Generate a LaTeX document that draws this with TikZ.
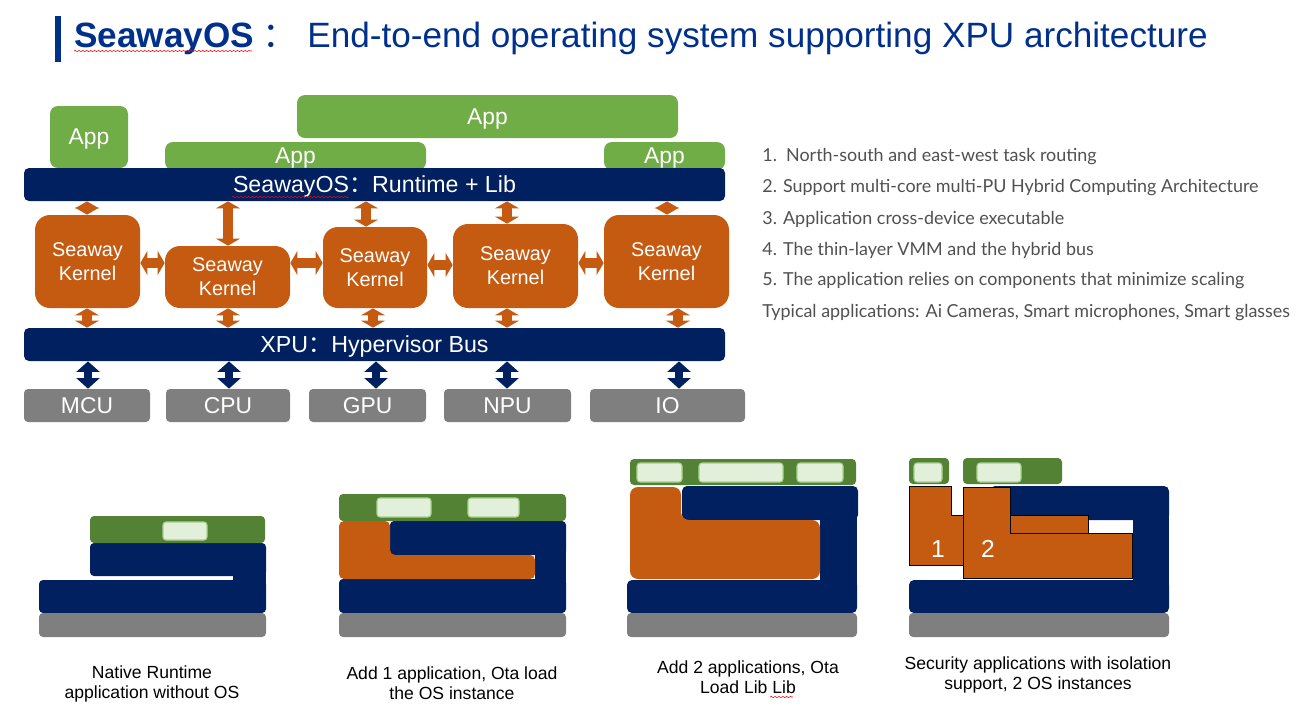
\documentclass[tikz,border=0pt]{standalone}
\usepackage{fontspec}
\setmainfont{Liberation Sans}
\newfontfamily\cjk{Noto Sans CJK SC}
\newfontfamily\listfont{Lato}
\usetikzlibrary{arrows.meta,decorations.pathmorphing}
\definecolor{navy}{RGB}{0,32,96}
\definecolor{titleblue}{RGB}{0,48,140}
\definecolor{appgreen}{RGB}{112,173,71}
\definecolor{darkgreen}{RGB}{84,130,53}
\definecolor{palegreen}{RGB}{226,239,218}
\definecolor{paleedge}{RGB}{169,209,142}
\definecolor{kernelorange}{RGB}{197,90,17}
\definecolor{hwgray}{RGB}{127,127,127}
\definecolor{listgray}{RGB}{80,80,80}

\begin{document}
\begin{tikzpicture}[x=0.02cm,y=-0.02cm,
  box/.style 2 args={minimum width={(#1)*0.02cm},minimum height={(#2)*0.02cm}},
  appbox/.style={fill=appgreen,rounded corners=0.16cm,inner sep=0pt,text depth=0pt,text=white,font=\fontsize{13}{15}\selectfont},
  busbar/.style={fill=navy,rounded corners=0.1cm,inner sep=0pt,text depth=0pt,text=white,font=\fontsize{13.2}{15}\selectfont},
  kernel/.style={fill=kernelorange,rounded corners=0.3cm,inner sep=0pt,text=white,align=center,font=\fontsize{11.3}{13.6}\selectfont},
  hwbox/.style={fill=hwgray,rounded corners=0.08cm,inner sep=0pt,text=white,font=\fontsize{13}{15}\selectfont},
  oarrow/.style={draw=kernelorange,line width=5.7pt,{Triangle[width=13.6pt,length=4pt]}-{Triangle[width=13.6pt,length=4pt]}},
  barrow/.style={draw=navy,line width=4.5pt,{Triangle[width=13pt,length=6pt]}-{Triangle[width=13pt,length=6pt]}},
  slot/.style={fill=palegreen,draw=paleedge,line width=0.6pt,rounded corners=0.06cm},
  iso/.style={fill=kernelorange,draw=black,line width=0.5pt},
  note/.style={align=center,font=\fontsize{10}{11.4}\selectfont},
  listtext/.style={anchor=west,inner sep=0pt,text=listgray,font=\listfont\fontsize{10.2}{12}\selectfont},
  squiggle/.style={red,line width=0.3pt,decorate,decoration={snake,amplitude=0.35pt,segment length=2.2pt}}]
  \useasboundingbox (0,0) rectangle (1309,707);

  % title
  \fill[titleblue] (55,16) rectangle (61,62);
  \node[anchor=base west,inner sep=0pt,text=titleblue,font=\bfseries\fontsize{20}{24}\selectfont] (ttl) at (74,47) {SeawayOS};
  \node[anchor=base west,inner sep=0pt,text=titleblue,font=\cjk\fontsize{20}{24}\selectfont] (ttlc) at (262,47) {：};
  \node[anchor=base west,inner sep=0pt,text=titleblue,font=\fontsize{20}{24}\selectfont] (ttl2) at (307,47) {End-to-end operating system supporting XPU architecture};
  \draw[squiggle] (74,51) -- (252,51);

  % architecture
  \node[appbox,box={78}{62}] (app1) at (89,137) {App};
  \node[appbox,box={381}{43}] (app2) at (487.5,116.5) {App};
  \node[appbox,box={261}{28}] (app3) at (295.5,156) {App};
  \node[appbox,box={121}{28}] (app4) at (664.5,156) {App};
  \node[busbar,box={701}{33}] (rt) at (374.5,184.5) {SeawayOS{\cjk ：}Runtime + Lib};
  \draw[squiggle] (232,197) -- (349,197);
  \node[busbar,box={701}{33}] (xpu) at (374.5,344.5) {XPU{\cjk ：}Hypervisor Bus};
  \foreach \n/\l/\t/\r in {k1/35/215/140, k2/165/246/290, k3/323/227/427, k4/453/224/578, k5/604/215/729}
    \node[kernel,box={\r-\l}{308-\t}] (\n) at ({(\l+\r)/2},{(\t+308)/2}) {Seaway\\Kernel};
  \foreach \n/\l/\r/\lab in {mcu/24/150/MCU, cpu/166/290/CPU, gpu/309/426/GPU, npu/444/571/NPU, io/590/745/IO}
    \node[hwbox,box={\r-\l}{33}] (\n) at ({(\l+\r)/2},405.5) {\lab};
  \foreach \n/\a/\b in {k1/87/87, k2/228/228, k3/366/373, k4/507/507, k5/667/678} {
    \draw[oarrow] (\a,0 |- rt.south) -- (\a,0 |- \n.north);
    \draw[oarrow] (\b,0 |- \n.south) -- (\b,0 |- xpu.north);
  }
  \foreach \a/\b/\y in {k1/k2/263, k2/k3/263, k3/k4/265, k4/k5/263}
    \draw[oarrow] (\a.east |- 0,\y) -- (\b.west |- 0,\y);
  \foreach \n/\x in {mcu/88, cpu/229, gpu/376, npu/507, io/679}
    \draw[barrow] (\x,0 |- xpu.south) -- (\x,0 |- \n.north);

  % feature list
  \foreach \y/\txt in {157/{1.\ \ North-south and east-west task routing},
      188/{2. Support multi-core multi-PU Hybrid Computing Architecture},
      219/{3. Application cross-device executable},
      250/{4. The thin-layer VMM and the hybrid bus},
      281/{5. The application relies on components that minimize scaling},
      313/{Typical applications: Ai Cameras, Smart microphones, Smart glasses}}
    \node[listtext] (l\y) at (762,\y) {\txt};

  % stack 1
  \fill[navy,rounded corners=0.08cm] (90,543) rectangle (266,576);
  \fill[navy,rounded corners=0.08cm] (39,580) rectangle (266,613);
  \fill[navy] (233,560) rectangle (266,600);
  \fill[darkgreen,rounded corners=0.08cm] (90,516) rectangle (265,543);
  \path[slot] (163,522) rectangle (207,540);
  \fill[hwgray,rounded corners=0.08cm] (39,613) rectangle (266,637);
  \node[note] (cap1) at (152,684) {Native Runtime\\application without OS};

  % stack 2
  \fill[navy,rounded corners=0.08cm] (390,521) rectangle (566,555);
  \fill[navy,rounded corners=0.08cm] (339,579) rectangle (566,613);
  \fill[navy] (535,540) rectangle (566,600);
  \fill[kernelorange,rounded corners=0.1cm] (339,521) -- (390,521) -- (390,555) -- (535,555) -- (535,579) -- (339,579) -- cycle;
  \fill[darkgreen,rounded corners=0.08cm] (339,494) rectangle (566,521);
  \path[slot] (377,498) rectangle (431,517);
  \path[slot] (468,498) rectangle (519,517);
  \fill[hwgray,rounded corners=0.08cm] (339,613) rectangle (566,637);
  \node[note] (cap2) at (452,683) {Add 1 application, Ota load\\the OS instance};

  % stack 3
  \fill[navy,rounded corners=0.1cm] (682,486) rectangle (858,520);
  \fill[navy,rounded corners=0.1cm] (627,580) rectangle (857,613);
  \fill[navy] (820,500) rectangle (857,600);
  \fill[kernelorange,rounded corners=0.16cm] (630,487) -- (681,487) -- (681,520) -- (820,520) -- (820,579) -- (630,579) -- cycle;
  \fill[darkgreen,rounded corners=0.08cm] (630,459) rectangle (856,485);
  \path[slot] (637,463) rectangle (682,482);
  \path[slot] (699,463) rectangle (783,482);
  \path[slot] (797,463) rectangle (843,482);
  \fill[hwgray,rounded corners=0.08cm] (627,613) rectangle (857,637);
  \node[note] (cap3) at (748,677) {Add 2 applications, Ota\\Load Lib Lib};
  \draw[squiggle] (770,697) -- (793,697);

  % stack 4
  \fill[navy,rounded corners=0.1cm] (990,486) rectangle (1169,520);
  \fill[navy,rounded corners=0.1cm] (909,580) rectangle (1169,613);
  \fill[navy] (1133,500) rectangle (1169,600);
  \path[iso] (909,486) -- (951,486) -- (951,515) -- (1088,515) -- (1088,565) -- (909,565) -- cycle;
  \path[iso] (963,487) -- (1010,487) -- (1010,533) -- (1132,533) -- (1132,578) -- (963,578) -- cycle;
  \fill[darkgreen,rounded corners=0.08cm] (909,458) rectangle (949,484);
  \path[slot] (914,463) rectangle (942,482);
  \fill[darkgreen,rounded corners=0.08cm] (963,458) rectangle (1062,484);
  \path[slot] (977,463) rectangle (1021,482);
  \fill[hwgray,rounded corners=0.08cm] (909,613) rectangle (1169,637);
  \node[text=white,font=\fontsize{14}{16}\selectfont] (n1) at (938,549) {1};
  \node[text=white,font=\fontsize{14}{16}\selectfont] (n2) at (988,549) {2};
  \node[note] (cap4) at (1038,675) {Security applications with isolation\\support, 2 OS instances};
\end{tikzpicture}
\end{document}
